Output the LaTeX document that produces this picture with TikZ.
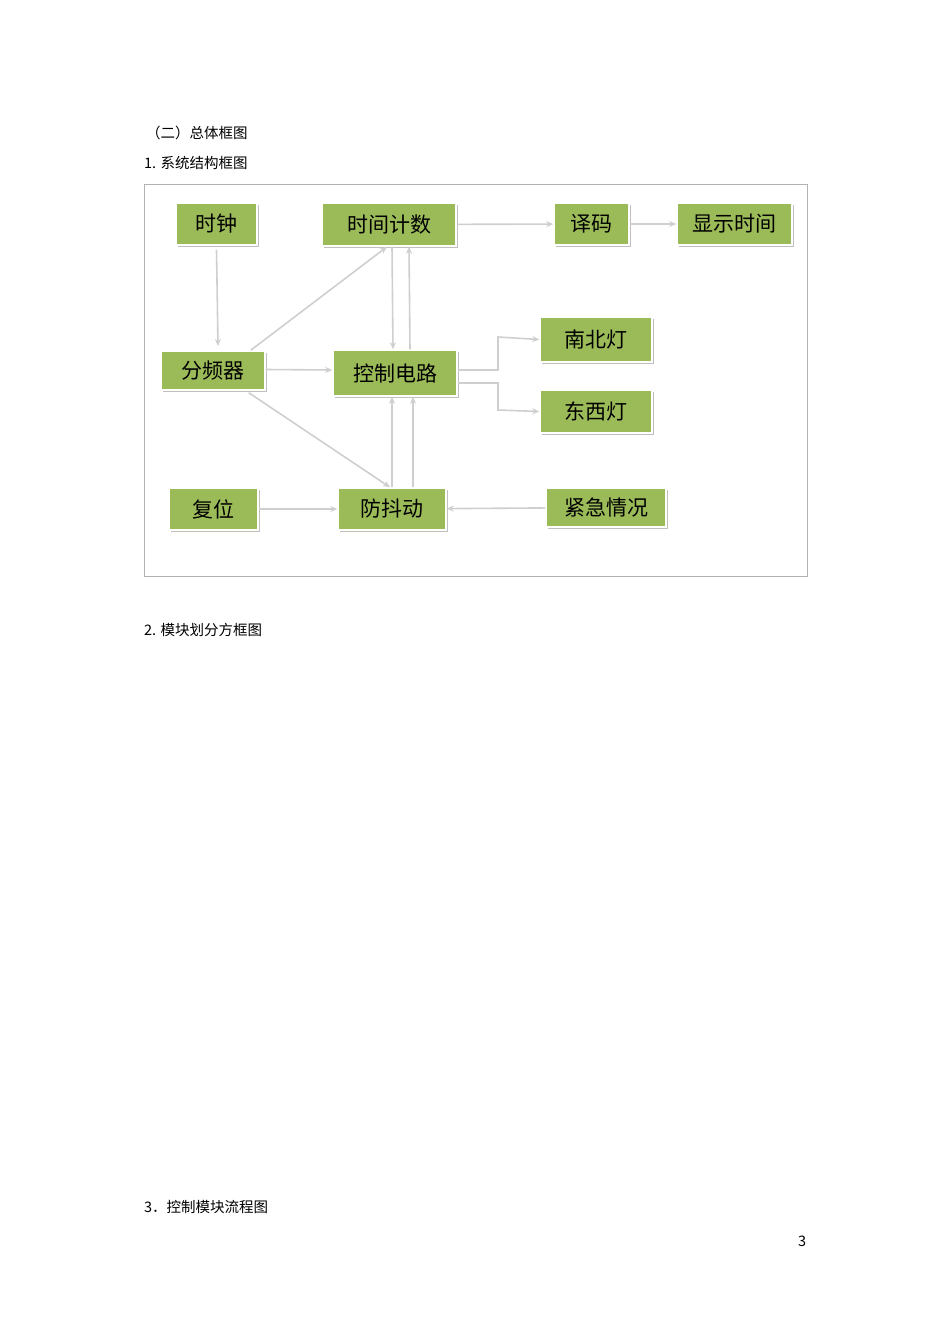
\documentclass[tikz,border=0pt]{standalone}
\usepackage{fontspec}
\newfontfamily\cjk{Noto Sans CJK SC}
\usetikzlibrary{arrows.meta}
\definecolor{boxg}{HTML}{9BBB59}
\definecolor{lineg}{HTML}{CFCFCF}
\begin{document}
\begin{tikzpicture}[x=1pt,y=-1pt,
  blk/.style={draw=white,line width=1.5pt,fill=boxg,inner sep=0pt,font=\cjk\fontsize{21}{21}\selectfont,
    drop shadow/.style={}},
  con/.style={draw=lineg,line width=1.6pt,-{Stealth[length=7pt,width=6pt]}},
  txt/.style={anchor=west,inner sep=0pt,font=\cjk\fontsize{14.5}{15}\selectfont}]
\useasboundingbox[fill=white] (0,0) rectangle (950,1344);
\node[txt] (t1) at (146,133) {（二）总体框图};
\node[txt] (t2) at (144,163) {1. 系统结构框图};
\node[txt] (t3) at (144,630) {2. 模块划分方框图};
\node[txt] (t4) at (144,1207) {3．控制模块流程图};
\node[txt] (pg) at (798,1241) {3};
\draw[gray!60,line width=0.8pt] (144,184) rectangle (807,576);
\newcommand{\bx}[6]{%
  \fill[black!25] (#2+2,#3+2) rectangle (#4+2,#5+2);
  \node[blk,minimum width=#4-#2,minimum height=#5-#3] (#1) at ({(#2+#4)/2},{(#3+#5)/2}) {#6};}
\bx{clk}{176}{203}{257}{245}{时钟}
\bx{cnt}{322}{203}{456}{246}{时间计数}
\bx{dec}{554}{203}{629}{245}{译码}
\bx{disp}{677}{203}{792}{245}{显示时间}
\bx{div}{161}{351}{265}{390}{分频器}
\bx{ctl}{333}{350}{457}{396}{控制电路}
\bx{ns}{540}{317}{652}{362}{南北灯}
\bx{ew}{540}{390}{652}{433}{东西灯}
\bx{rst}{169}{488}{258}{530}{复位}
\bx{deb}{338}{488}{446}{530}{防抖动}
\bx{emg}{546}{488}{666}{527}{紧急情况}
\draw[con] (clk.south) ++(0,4) -- (218,346);
\draw[con] (div.north east) ++(-15,0) -- ([xshift=-2pt]cnt.south);
\draw[con] ([xshift=3pt]cnt.south) -- ([xshift=-2pt]ctl.north);
\draw[con] ([xshift=15pt]ctl.north) -- ([xshift=20pt]cnt.south);
\draw[con] (div.east) ++(0,-1) -- (ctl.west |- 0,370);
\draw[con] (ctl.east |- 0,370) -| (498,337) -- (ns.west);
\draw[con] (ctl.east |- 0,383) -| (498,410) -- (ew.west);
\draw[con] (div.south east) ++(-17,2) -- ([xshift=-2pt]deb.north);
\draw[con] ([xshift=0pt]deb.north) -- ([xshift=0pt]deb.north |- ctl.south);
\draw[con] ([xshift=21pt]deb.north) -- ([xshift=21pt]deb.north |- ctl.south);
\draw[con] (rst) -- (deb);
\draw[con] (emg) -- (deb);
\draw[con] (cnt) -- (dec);
\draw[con] (dec) -- (disp);
\end{tikzpicture}
\end{document}
